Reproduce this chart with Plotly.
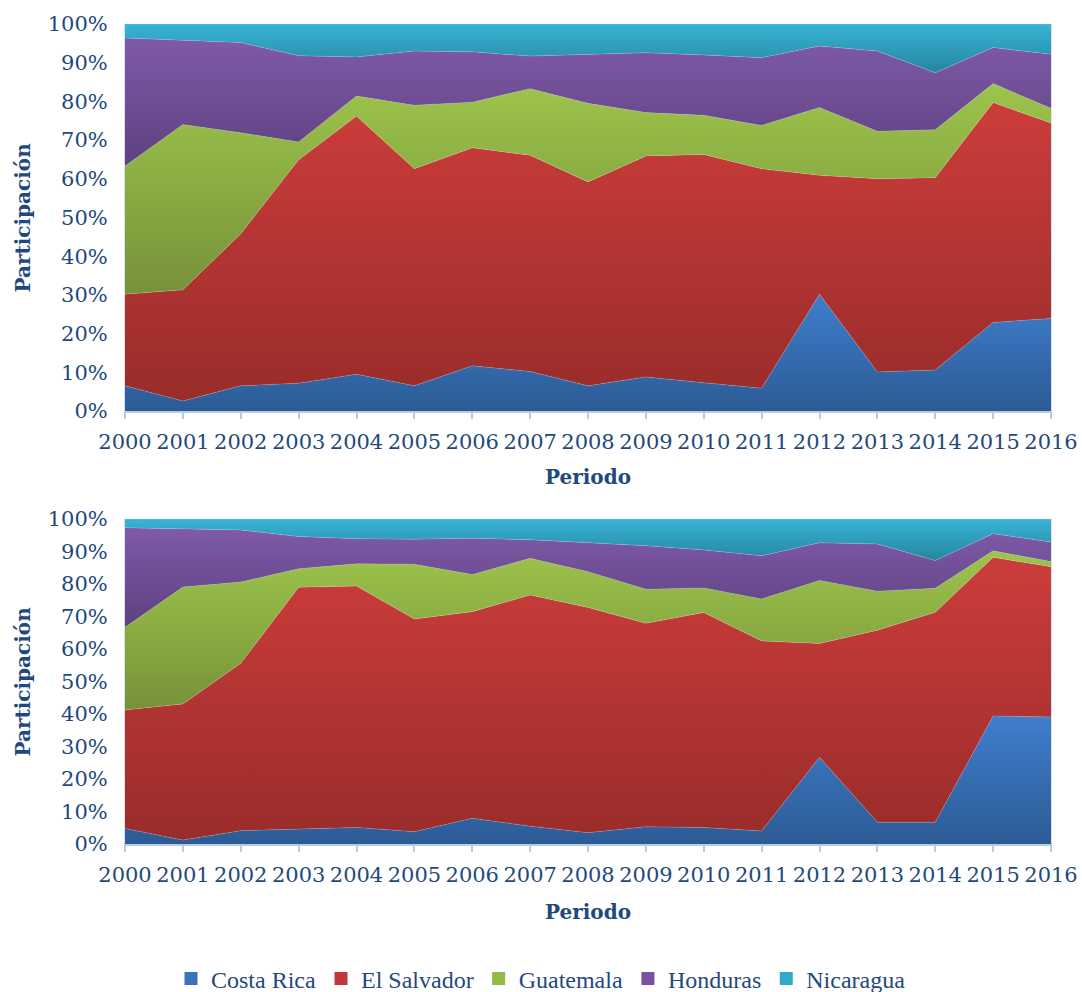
import numpy as np
import plotly.graph_objects as go

years = list(range(2000, 2017))
countries = ["Costa Rica", "El Salvador", "Guatemala", "Honduras", "Nicaragua"]

# Top chart shares (%)
top_costa_rica = [6.5, 2.6, 6.5, 7.2, 9.5, 6.5, 11.7, 10.2, 6.5, 8.8, 7.3, 5.9, 30.2, 10.1, 10.6, 22.9, 23.9]
top_el_salvador = [23.7, 28.7, 39.3, 57.7, 66.7, 56.1, 56.3, 55.9, 52.7, 57.1, 59.0, 56.7, 30.7, 49.9, 49.7, 56.8, 50.5]
top_guatemala = [33.1, 42.7, 26.1, 4.6, 5.2, 16.4, 11.8, 17.2, 20.3, 11.2, 10.1, 11.2, 17.5, 12.3, 12.4, 4.9, 3.8]
top_honduras = [33.1, 21.8, 23.3, 22.3, 10.1, 14.0, 13.0, 8.4, 12.7, 15.5, 15.6, 17.5, 15.9, 20.7, 14.7, 9.3, 14.0]
top_nicaragua = [3.6, 4.2, 4.8, 8.2, 8.5, 7.0, 7.2, 8.3, 7.8, 7.4, 8.0, 8.7, 5.7, 7.0, 12.6, 6.1, 7.8]

# Bottom chart shares (%)
bot_costa_rica = [4.8, 1.2, 4.1, 4.6, 5.1, 3.8, 7.9, 5.5, 3.5, 5.3, 5.1, 4.0, 26.7, 6.7, 6.7, 39.4, 39.1]
bot_el_salvador = [36.4, 41.9, 51.5, 74.4, 74.3, 65.4, 63.6, 71.1, 69.3, 62.6, 66.1, 58.5, 35.0, 59.1, 64.6, 48.8, 46.2]
bot_guatemala = [25.5, 36.0, 25.0, 5.7, 6.8, 16.9, 11.4, 11.3, 11.0, 10.5, 7.6, 12.9, 19.4, 12.0, 7.4, 2.0, 1.6]
bot_honduras = [30.6, 17.8, 16.0, 9.9, 7.7, 7.7, 11.2, 5.7, 9.0, 13.4, 11.7, 13.3, 11.6, 14.5, 8.5, 5.3, 6.0]
bot_nicaragua = [2.7, 3.1, 3.4, 5.4, 6.1, 6.2, 5.9, 6.4, 7.2, 8.2, 9.5, 11.3, 7.3, 7.7, 12.8, 4.5, 7.1]

y_ticks = [0, 10, 20, 30, 40, 50, 60, 70, 80, 90, 100]
y_tick_text = [f"{v}%" for v in y_ticks]

# gradient colours: (bottom/dark, top/light)
grad = [
    ("#2B5B95", "#3F7ECD"),
    ("#992C2A", "#CC3D3B"),
    ("#76923A", "#9DC44B"),
    ("#5D4180", "#7F5AA8"),
    ("#25859F", "#39B4D6"),
]
legend_col = ["#3A73BC", "#C0393A", "#93B949", "#7652A0", "#33A9CA"]

TXT = "#1F497D"
FONT = "DejaVu Serif"

fig = go.Figure()

def add_chart(series, xa, ya):
    arr = np.array(series, dtype=float)
    norm = arr / arr.sum(axis=0) * 100.0
    cum = np.cumsum(norm, axis=0)
    lower = np.vstack([np.zeros(arr.shape[1]), cum[:-1]])
    for i, name in enumerate(countries):
        dark, light = grad[i]
        fig.add_trace(go.Scatter(
            x=years, y=list(series[i]), name=name,
            stackgroup="s" + xa, groupnorm="percent",
            mode="lines", line=dict(width=0.6, color="rgba(255,255,255,0.25)"),
            fillcolor=legend_col[i],
            fillgradient=dict(type="vertical",
                              start=float(lower[i].min()), stop=float(cum[i].max()),
                              colorscale=[[0, dark], [1, light]]),
            xaxis=xa, yaxis=ya, showlegend=False,
            hoverinfo="x+y+name",
        ))

add_chart([top_costa_rica, top_el_salvador, top_guatemala, top_honduras, top_nicaragua], "x", "y")
add_chart([bot_costa_rica, bot_el_salvador, bot_guatemala, bot_honduras, bot_nicaragua], "x2", "y2")

# legend entries (square swatches)
for i, name in enumerate(countries):
    fig.add_trace(go.Scatter(
        x=[None], y=[None], name=name, mode="markers",
        marker=dict(symbol="square", size=13, color=legend_col[i],
                    line=dict(width=0)),
        showlegend=True, xaxis="x2", yaxis="y2",
    ))

W, H = 1082, 992
def px_x(p): return p / W
def px_y(p): return 1 - p / H

xdom = [px_x(125), px_x(1051)]
axis_x = dict(range=[2000, 2016], tickvals=years, ticktext=[str(y) for y in years],
              showgrid=False, zeroline=False, showline=True, linecolor="#B7CBE3", linewidth=1.5,
              ticks="outside", ticklen=6, tickcolor="#B7CBE3", tickwidth=1.5,
              tickfont=dict(family=FONT, size=21, color=TXT), mirror=False,
              ticklabelstandoff=5, automargin=False)
axis_y = dict(range=[0, 100], tickvals=y_ticks, ticktext=y_tick_text,
              showgrid=False, zeroline=False, showline=True, linecolor="#D6E2F0", linewidth=1,
              ticks="", tickfont=dict(family=FONT, size=21, color=TXT), mirror=True,
              ticklabelstandoff=12, automargin=False)

fig.update_layout(
    width=W, height=H,
    margin=dict(l=0, r=0, t=0, b=0, autoexpand=False),
    paper_bgcolor="white", plot_bgcolor="white",
    xaxis=dict(axis_x, domain=xdom, anchor="y"),
    yaxis=dict(axis_y, domain=[px_y(411), px_y(24)], anchor="x"),
    xaxis2=dict(axis_x, domain=xdom, anchor="y2"),
    yaxis2=dict(axis_y, domain=[px_y(844), px_y(519)], anchor="x2"),
    legend=dict(orientation="h", x=0.5, xanchor="center", y=px_y(979), yanchor="middle",
                font=dict(family="Liberation Serif", size=24, color=TXT),
                itemwidth=30, traceorder="normal", bgcolor="rgba(0,0,0,0)"),
    showlegend=True,
)

ann = []
for ycen in [(24 + 411) / 2, (519 + 844) / 2]:
    ann.append(dict(text="<b>Participación</b>", x=px_x(22), y=px_y(ycen), xref="paper", yref="paper",
                    textangle=-90, showarrow=False, xanchor="center", yanchor="middle",
                    font=dict(family=FONT, size=20, color=TXT)))
for ycen in [477, 912]:
    ann.append(dict(text="<b>Periodo</b>", x=px_x(588), y=px_y(ycen), xref="paper", yref="paper",
                    showarrow=False, xanchor="center", yanchor="middle",
                    font=dict(family=FONT, size=20, color=TXT)))
fig.update_layout(annotations=ann)

fig.write_html("out.html", config={"displayModeBar": False},
               post_script="document.body.style.margin='0';")
